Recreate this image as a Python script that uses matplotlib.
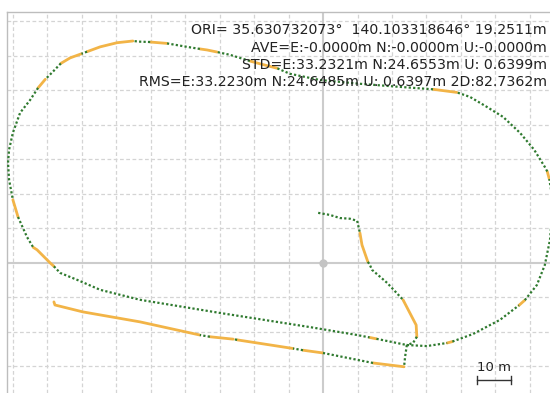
import matplotlib.pyplot as plt
import numpy as np

# RTK solution track, east/north offsets in metres from ORI
# q: 1 = fix (green), 2 = float (orange); q[i] colours the segment i -> i+1
loop_e = [24.3, 30.1, 36.0, 37.5, 43.5, 51.3, 56.8, 58.5, 62.0, 64.3, 65.8, 66.4, 66.1, 65.6, 65.0,
          64.3, 61.2, 57.1, 52.2, 47.5, 42.6, 38.8, 31.9, 22.3, 10.7, -0.9, -9.6, -13.3, -18.3, -21.2,
          -24.1, -27.0, -30.7, -33.6, -35.7, -39.4, -45.2, -50.1, -53.0, -55.1, -59.7, -64.6, -68.4,
          -70.0, -73.3, -76.0, -78.3, -80.5, -82.6, -84.9, -87.8, -89.9, -91.0, -91.3, -91.0, -89.9,
          -88.4, -85.8, -84.0, -82.9, -79.1, -78.0, -76.2, -71.3, -64.6, -53.0, -29.9, -3.8, 9.9, 13.5,
          15.5, 24.3]
loop_n = [-23.8, -24.1, -23.2, -22.8, -20.6, -16.5, -12.3, -10.8, -6.4, -0.6, 6.7, 13.9, 21.2, 24.3, 26.5,
          27.8, 32.8, 37.7, 42.3, 45.2, 48.1, 49.4, 50.3, 51.0, 51.9, 53.0, 54.8, 56.4, 57.7, 58.5,
          59.4, 60.3, 61.1, 61.7, 62.0, 62.6, 63.6, 64.0, 64.1, 64.3, 63.8, 62.6, 61.2,
          60.6, 59.4, 57.8, 55.4, 53.2, 50.7, 47.2, 43.5, 37.7, 32.8, 29.0, 24.1, 18.3,
          13.3, 7.5, 4.5, 3.8, 0.0, -1.0, -2.9, -4.9, -7.8, -10.7, -14.5, -18.6, -20.9, -21.6,
          -22.0, -23.8]
loop_q = [1, 1, 2, 1, 1, 1, 2, 1, 1, 1, 1, 1, 1, 2, 1,
          1, 1, 1, 1, 1, 1, 2, 1, 1, 1, 1, 1, 2, 2, 1,
          1, 1, 2, 2, 1, 1, 2, 1, 1, 2, 2, 2, 1,
          2, 2, 1, 1, 2, 1, 1, 1, 1, 1, 1, 1, 2,
          1, 1, 2, 2, 2, 1, 1, 1, 1, 1, 1, 1, 1, 2,
          1]

inner_e = [-1.4, 2.0, 4.9, 7.8, 9.9, 10.7, 11.3, 13.0, 13.6, 14.2, 18.6, 23.2, 25.8, 27.0, 27.2, 26.1, 24.3]
inner_n = [14.5, 13.9, 13.0, 12.8, 12.2, 8.7, 5.2, 0.3, -0.6, -2.0, -5.8, -10.7, -15.7, -18.0, -21.4, -23.2, -23.8]
inner_q = [1, 1, 1, 1, 1, 2, 2, 1, 1, 1, 1, 2, 2, 2, 1, 1]

lower_e = [24.3, 23.8, 23.5, 14.5, 0.0, -5.8, -8.7, -24.9, -26.0, -32.8, -35.7, -53.0, -69.6, -77.7, -78.0]
lower_n = [-23.8, -27.2, -30.1, -29.0, -26.1, -25.3, -24.8, -22.3, -22.1, -21.4, -20.9, -17.1, -14.2, -12.2, -11.3]
lower_q = [1, 1, 2, 1, 2, 1, 2, 1, 2, 1, 2, 2, 2, 2]

stat_lines = [
    "ORI= 35.630732073\u00b0  140.103318646\u00b0 19.2511m",
    "AVE=E:-0.0000m N:-0.0000m U:-0.0000m",
    "STD=E:33.2321m N:24.6553m U: 0.6399m",
    "RMS=E:33.2230m N:24.6485m U: 0.6397m 2D:82.7362m",
]

FIX_COLOR = '#2f7a2f'
FLOAT_COLOR = '#f2b447'


def draw_track(ax, e, n, q):
    # draw runs of equal quality as one line each
    start = 0
    for i in range(1, len(q) + 1):
        if i == len(q) or q[i] != q[start]:
            xs = e[start:i + 1]
            ys = n[start:i + 1]
            if q[start] == 1:
                ax.plot(xs, ys, color=FIX_COLOR, lw=1.6, ls=(0, (1, 1)), zorder=4)
            else:
                ax.plot(xs, ys, color=FLOAT_COLOR, lw=2.0, solid_capstyle='round', zorder=3)
            start = i


fig = plt.figure(figsize=(5.5, 3.93), dpi=100)
ax = fig.add_axes([7 / 550, 0, 543 / 550, 381 / 393])

ax.set_xlim(-91.6, 65.8)
ax.set_ylim(-37.7, 72.7)

# grid every 10 m
for gx in np.arange(-90, 70, 10):
    if gx != 0:
        ax.axvline(gx, color='#d4d4d4', lw=0.9, ls=(0, (3, 2)), zorder=1)
for gy in np.arange(-30, 80, 10):
    if gy != 0:
        ax.axhline(gy, color='#d4d4d4', lw=0.9, ls=(0, (3, 2)), zorder=1)
ax.axvline(0, color='#cccccc', lw=1.5, zorder=1)
ax.axhline(0, color='#cccccc', lw=1.5, zorder=1)
ax.plot([0], [0], 'o', color='#c4c4c4', ms=5, zorder=2)

draw_track(ax, loop_e, loop_n, loop_q)
draw_track(ax, inner_e, inner_n, inner_q)
draw_track(ax, lower_e, lower_n, lower_q)

# scale bar
bar_len = 10
bx, by = 44.6, -33.9
ax.plot([bx, bx + bar_len], [by, by], color='#333333', lw=1, zorder=5)
ax.plot([bx, bx], [by - 1.2, by + 1.2], color='#333333', lw=1, zorder=5)
ax.plot([bx + bar_len, bx + bar_len], [by - 1.2, by + 1.2], color='#333333', lw=1, zorder=5)
ax.text(bx + bar_len / 2, by + 1.6, f"{bar_len} m", ha='center', va='bottom',
        fontsize=9.5, color='#222222', zorder=5)

for k, line in enumerate(stat_lines):
    ax.text(0.9945, 0.952 - k * 0.0455, line, transform=ax.transAxes, ha='right', va='center',
            fontsize=10.2, color='#222222', zorder=6)

ax.set_xticks([])
ax.set_yticks([])
for side in ['right', 'bottom']:
    ax.spines[side].set_visible(False)
for side in ['left', 'top']:
    ax.spines[side].set_color('#bdbdbd')
    ax.spines[side].set_linewidth(1)

fig.savefig('out.png', dpi=100)
